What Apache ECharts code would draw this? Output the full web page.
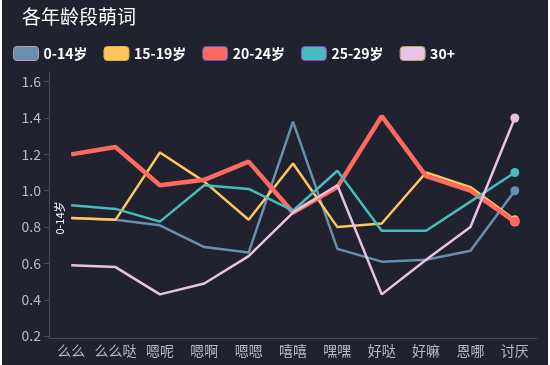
<!DOCTYPE html>
<html>
<head>
<meta charset="utf-8">
<script src="https://cdn.jsdelivr.net/npm/echarts@6/dist/echarts.min.js"></script>
<style>
html,body{margin:0;padding:0;background:#ffffff;}
#c{position:absolute;left:2px;top:0;width:546px;height:365px;}
</style>
</head>
<body>
<div id="c"></div>
<script>
var categories = ['么么','么么哒','嗯呢','嗯啊','嗯嗯','嘻嘻','嘿嘿','好哒','好嘛','恩哪','讨厌'];
var seriesNames = ['0-14岁','15-19岁','20-24岁','25-29岁','30+'];
var age0_14  = [0.85,0.84,0.81,0.69,0.66,1.38,0.68,0.61,0.62,0.67,1.00];
var age15_19 = [0.85,0.84,1.21,1.05,0.84,1.15,0.80,0.82,1.10,1.02,0.84];
var age20_24 = [1.20,1.24,1.03,1.06,1.16,0.88,1.02,1.41,1.08,1.00,0.83];
var age25_29 = [0.92,0.90,0.83,1.03,1.01,0.89,1.11,0.78,0.78,0.94,1.10];
var age30    = [0.59,0.58,0.43,0.49,0.64,0.88,1.03,0.43,0.62,0.80,1.40];
var yMin = 0.19, yMax = 1.653;

var colors = ['#6a8fae','#ffc55f','#fe6a60','#48bbbf','#e8c3e5'];
var legendBorders = ['#c09aa8','#e0b040','#5a5ad8','#a040d0','#a8b060'];
var widths = [2.5,2.5,4.5,2.5,2.5];
var allData = [age0_14, age15_19, age20_24, age25_29, age30];

function buildData(arr, idx){
  return arr.map(function(v,i){
    var item = {value: v};
    if (i === arr.length - 1) {
      item.symbol = 'circle';
      item.symbolSize = idx === 2 ? 10 : 9;
    }
    if (idx === 0 && i === 0) {
      item.symbol = 'circle';
      item.symbolSize = 2;
      item.itemStyle = {color: 'rgba(0,0,0,0)'};
      item.label = {
        show: true, position: 'left', distance: 5, rotate: 90,
        align: 'center', verticalAlign: 'bottom',
        formatter: '{a}', color: '#ffffff', fontSize: 11,
        fontFamily: 'Noto Sans CJK SC'
      };
    }
    return item;
  });
}

var series = seriesNames.map(function(n, idx){
  return {
    name: n, type: 'line', symbol: 'none', showSymbol: true,
    data: buildData(allData[idx], idx),
    lineStyle: {width: widths[idx], color: colors[idx]},
    itemStyle: {color: colors[idx]},
    labelLayout: {hideOverlap: false},
    emphasis: {disabled: true},
    animation: false
  };
});

var chart = echarts.init(document.getElementById('c'));
chart.setOption({
  backgroundColor: '#20232f',
  color: colors,
  animation: false,
  title: {
    text: '各年龄段萌词', left: 15, top: 2,
    textStyle: {color: '#ffffff', fontSize: 19, fontWeight: 'normal', fontFamily: 'Noto Sans CJK SC'}
  },
  legend: {
    left: 6, top: 41, itemWidth: 25, itemHeight: 14, itemGap: 16,
    textStyle: {color: '#ffffff', fontSize: 14, fontWeight: 'bold', fontFamily: 'Noto Sans CJK SC'},
    data: seriesNames.map(function(n, i){
      return {name: n, icon: 'roundRect', itemStyle: {color: colors[i], borderColor: legendBorders[i], borderWidth: 1}};
    })
  },
  grid: {left: 47, right: 11, top: 72, bottom: 27, containLabel: false},
  xAxis: {
    type: 'category', data: categories, boundaryGap: true,
    axisLine: {lineStyle: {color: '#464a58'}},
    axisTick: {alignWithLabel: true, lineStyle: {color: '#464a58'}},
    axisLabel: {color: '#b8bbc3', fontSize: 14, fontFamily: 'Noto Sans CJK SC', interval: 0, margin: 6}
  },
  yAxis: {
    type: 'value', min: yMin, max: yMax, splitNumber: 7,
    axisLine: {show: true, lineStyle: {color: '#464a58'}},
    axisTick: {show: true, lineStyle: {color: '#464a58'}},
    splitLine: {show: false},
    axisLabel: {color: '#b8bbc3', fontSize: 14, fontFamily: 'Noto Sans CJK SC', showMinLabel: false, showMaxLabel: false,
      formatter: function(v){ return v.toFixed(1); }}
  },
  series: series
});
</script>
</body>
</html>
